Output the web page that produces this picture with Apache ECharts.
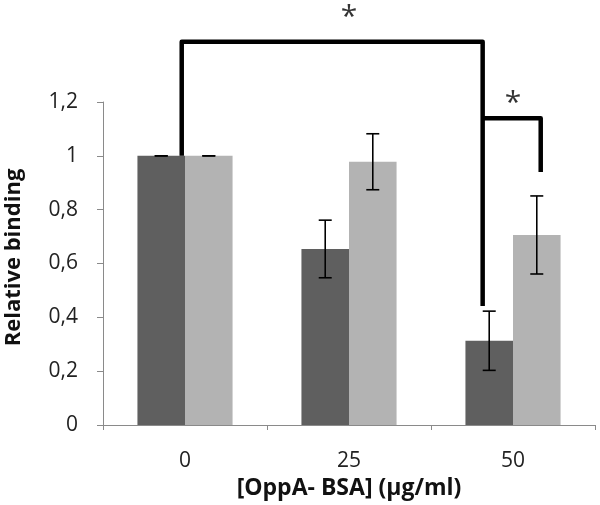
<!DOCTYPE html>
<html><head><meta charset="utf-8">
<script src="https://cdn.jsdelivr.net/npm/echarts@6/dist/echarts.min.js"></script>
<style>html,body{margin:0;padding:0;background:#fff}#c{width:600px;height:505px}</style>
</head><body><div id="c"></div>
<script>
var categories = ['0', '25', '50'];
var darkValues = [1.0, 0.654, 0.313];
var darkErrors = [0.0, 0.107, 0.110];
var lightValues = [1.0, 0.978, 0.706];
var lightErrors = [0.0, 0.104, 0.145];
var yTicks = [0, 0.2, 0.4, 0.6, 0.8, 1.0, 1.2];
// significance brackets in data units (x: 0..3 across categories, y: value)
var bracketMain = [[0.48, 1.0], [0.48, 1.424], [2.315, 1.424], [2.315, 0.442]];
var bracketSmall = [[2.315, 1.14], [2.669, 1.14], [2.669, 0.94]];
var stars = [[1.5, 1.532], [2.5, 1.212]];

var FONT = '"Open Sans", sans-serif';
var gapPct = 42;
var chart = echarts.init(document.getElementById('c'), null, {renderer: 'canvas'});

function errRender(side, errs) {
  return function (params, api) {
    var i = api.value(0), v = api.value(1), e = errs[params.dataIndex];
    var c = api.coord([i, v]);
    var cw = api.size([1, 0])[0];
    var bw = cw * (1 - gapPct / 100) / 2;
    var x = c[0] + side * bw / 2;
    var top = api.coord([i, v + e])[1], bot = api.coord([i, v - e])[1];
    var cap = 6.5;
    var st = {stroke: '#000', lineWidth: 1.6};
    var ch = [
      {type: 'line', shape: {x1: x - cap, y1: top, x2: x + cap, y2: top}, style: st},
      {type: 'line', shape: {x1: x - cap, y1: bot, x2: x + cap, y2: bot}, style: st}
    ];
    if (e > 0) ch.push({type: 'line', shape: {x1: x, y1: top, x2: x, y2: bot}, style: st});
    return {type: 'group', children: ch};
  };
}

chart.setOption({
  animation: false,
  backgroundColor: '#fff',
  grid: {left: 103, right: 5, top: 102, bottom: 80, containLabel: false, outerBoundsMode: 'none'},
  xAxis: [{
    type: 'category', data: categories, gridIndex: 0,
    axisLine: {lineStyle: {color: '#8a8a8a', width: 1}},
    axisTick: {show: true, length: 5, lineStyle: {color: '#8a8a8a'}},
    axisLabel: {color: '#222', fontFamily: FONT, fontSize: 21, margin: 25, verticalAlign: 'top', lineHeight: 22},
    name: '[OppA- BSA] (μg/ml)', nameLocation: 'middle', nameGap: 52, nameMoveOverlap: false,
    nameTextStyle: {color: '#111', fontFamily: FONT, fontSize: 23, fontWeight: 'bold', verticalAlign: 'top'}
  }, {
    type: 'value', min: 0, max: 3, show: false, gridIndex: 0
  }],
  yAxis: {
    type: 'value', min: 0, max: 1.2, interval: 0.2,
    axisLine: {show: true, lineStyle: {color: '#8a8a8a', width: 1}},
    axisTick: {show: true, length: 6, lineStyle: {color: '#8a8a8a'}},
    splitLine: {show: false},
    axisLabel: {color: '#222', fontFamily: FONT, fontSize: 21, margin: 25,
      formatter: function (v) {
        for (var k = 0; k < yTicks.length; k++) if (Math.abs(yTicks[k] - v) < 1e-9) return String(yTicks[k]).replace('.', ',');
        return '';
      }},
    name: 'Relative binding', nameLocation: 'middle', nameGap: 78, nameRotate: 90, nameMoveOverlap: false,
    nameTextStyle: {color: '#111', fontFamily: FONT, fontSize: 22, fontWeight: 'bold', padding: [0, 0, 0, 12]}
  },
  series: [
    {type: 'bar', data: darkValues, barGap: '0%', barCategoryGap: gapPct + '%', itemStyle: {color: '#5f5f5f'}},
    {type: 'bar', data: lightValues, barGap: '0%', barCategoryGap: gapPct + '%', itemStyle: {color: '#b3b3b3'}},
    {type: 'custom', renderItem: errRender(-1, darkErrors), data: darkValues.map(function (v, i) { return [i, v]; }), z: 5},
    {type: 'custom', renderItem: errRender(1, lightErrors), data: lightValues.map(function (v, i) { return [i, v]; }), z: 5},
    {type: 'line', xAxisIndex: 1, data: bracketMain, clip: false, symbol: 'none', z: 6,
      lineStyle: {color: '#000', width: 4.5, join: 'round'}},
    {type: 'line', xAxisIndex: 1, data: bracketSmall, clip: false, symbol: 'none', z: 6,
      lineStyle: {color: '#000', width: 4.5, join: 'round'}},
    {type: 'scatter', xAxisIndex: 1, data: stars, clip: false, symbolSize: 0, z: 7,
      label: {show: true, position: 'inside', formatter: '*', color: '#000', fontFamily: FONT, fontSize: 30, offset: [0, 5]}}
  ]
});
</script></body></html>
